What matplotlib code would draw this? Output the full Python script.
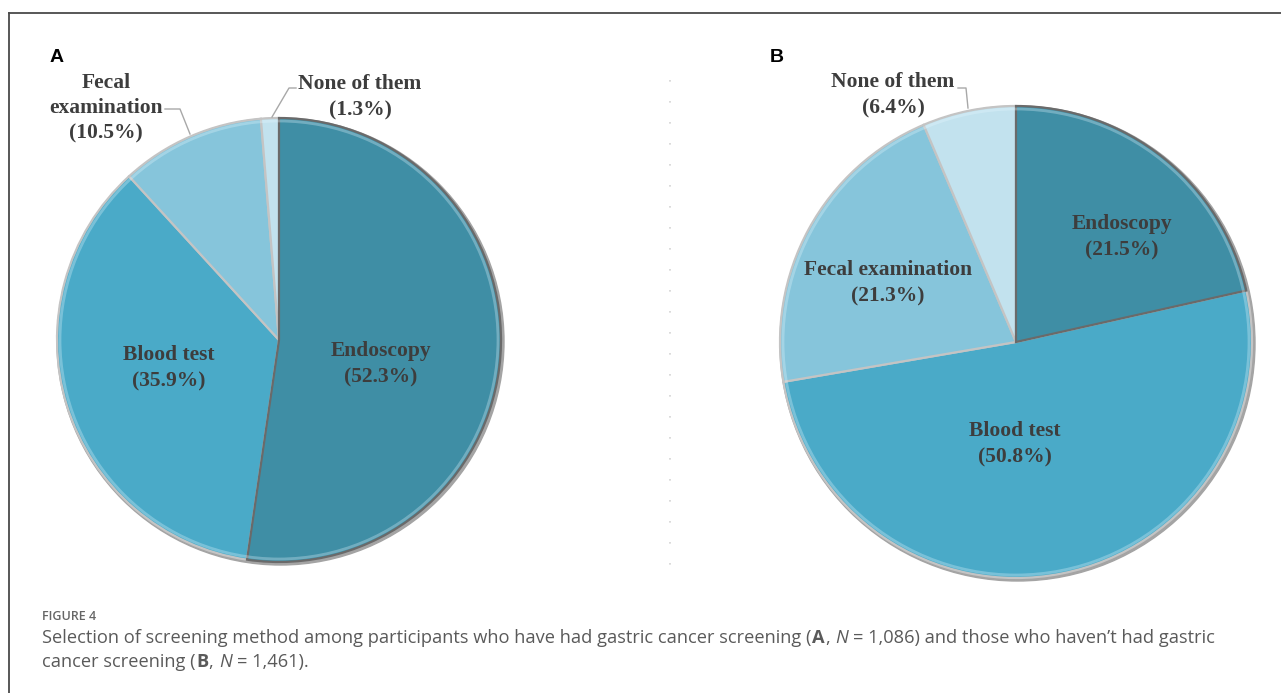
import matplotlib.pyplot as plt
from matplotlib.patches import Circle

# screening method choice, panel A (screened) and panel B (not screened)
methods = ["Endoscopy", "Blood test", "Fecal examination", "None of them"]
share_a = [52.3, 35.9, 10.5, 1.3]
share_b = [21.5, 50.8, 21.3, 6.4]
colors = ["#3f8ea5", "#4aaac8", "#86c5db", "#c2e2ee"]

W, H = 1281, 693
TXT = "#3d3d3d"
CAP = "#5a5a5a"


def draw_pie(ax, values, cx, cy, r):
    # soft grey shadow under the disc
    ax.add_patch(Circle((cx + 1.5, cy - 1.5), r + 1.5, color="#a4a4a4", zorder=0))
    wedges, _ = ax.pie(values, colors=colors, startangle=90, counterclock=False,
                       center=(cx, cy), radius=r,
                       wedgeprops=dict(edgecolor="#c4c4c4", linewidth=1.6))
    wedges[0].set_edgecolor("#6a6a6a")
    wedges[0].set_zorder(3)
    # light rim highlight
    ax.add_patch(Circle((cx, cy), r - 3, fill=False, ec="#e8f8ff", lw=2, alpha=0.3, zorder=4))
    return wedges


def label(ax, x, y, s, spacing=1.45):
    ax.text(x, H - y, s, ha="center", va="center", fontsize=15.5, color=TXT,
            family="Liberation Serif", weight="bold", linespacing=spacing, zorder=5)


def leader(ax, xs, ys):
    ax.plot(xs, [H - y for y in ys], color="#a8a8a8", lw=1, zorder=5)


def caption_line(ax, x, y, runs, size=13.15):
    renderer = ax.figure.canvas.get_renderer()
    inv = ax.transData.inverted()
    probe = ax.text(0, 0, "x x", fontsize=size, family="Open Sans")
    probe2 = ax.text(0, 0, "xx", fontsize=size, family="Open Sans")
    space = probe.get_window_extent(renderer).width - probe2.get_window_extent(renderer).width
    probe.remove()
    probe2.remove()
    for s, weight, style in runs:
        if s.startswith(" "):
            x += space
        core = s.strip()
        t = ax.text(x, H - y, core, fontsize=size, family="Open Sans", weight=weight,
                    style=style, color=CAP, va="baseline", ha="left")
        x1 = t.get_window_extent(renderer).x1
        x = inv.transform((x1, 0))[0] + 0.5
        if s.endswith(" "):
            x += space


fig = plt.figure(figsize=(W / 100, H / 100), dpi=100)
ax = fig.add_axes([0, 0, 1, 1])

# panel A
draw_pie(ax, share_a, 279, H - 340, 222)
label(ax, 381, 364, f"{methods[0]}\n({share_a[0]}%)")
label(ax, 169, 368, f"{methods[1]}\n({share_a[1]}%)")
label(ax, 106, 108, f"Fecal\nexamination\n({share_a[2]}%)", spacing=1.35)
label(ax, 360, 97, f"{methods[3]}\n({share_a[3]}%)")
leader(ax, [165, 180, 190], [109, 109, 134])
leader(ax, [296, 289, 272], [88, 88, 117])

# panel B
draw_pie(ax, share_b, 1016, H - 342, 236)
label(ax, 1122, 237, f"{methods[0]}\n({share_b[0]}%)")
label(ax, 1015, 444, f"{methods[1]}\n({share_b[1]}%)")
label(ax, 888, 283, f"{methods[2]}\n({share_b[2]}%)")
label(ax, 893, 95, f"{methods[3]}\n({share_b[3]}%)")
leader(ax, [958, 966, 968], [88, 88, 108])

ax.set_xlim(0, W)
ax.set_ylim(0, H)
ax.axis("off")

# panel letters
ax.text(50, H - 58, "A", fontsize=14, weight="bold", family="Liberation Sans", va="center")
ax.text(770, H - 57, "B", fontsize=14, weight="bold", family="Liberation Sans", va="center")

# faint dotted divider between panels
ax.plot([670, 670], [H - 80, H - 580], color="#d4d4d4", lw=1.2, ls=(0, (1, 11.6)))

# outer frame (top and left)
ax.plot([9, W], [H - 13, H - 13], color="#4a4a4a", lw=1.3)
ax.plot([9, 9], [H - 13, 0], color="#4a4a4a", lw=1.3)

# caption
ax.text(42, H - 620, "FIGURE 4", fontsize=9, weight="semibold", family="Open Sans",
        color="#666666", va="baseline")
caption_line(ax, 42, 643, [
    ("Selection of screening method among participants who have had gastric cancer screening (", "normal", "normal"),
    ("A", "bold", "normal"),
    (", ", "normal", "normal"),
    ("N", "normal", "italic"),
    (" = 1,086) and those who haven\u2019t had gastric", "normal", "normal"),
])
caption_line(ax, 42, 667, [
    ("cancer screening (", "normal", "normal"),
    ("B", "bold", "normal"),
    (", ", "normal", "normal"),
    ("N", "normal", "italic"),
    (" = 1,461).", "normal", "normal"),
])

fig.savefig("out.png", dpi=100, facecolor="white")
